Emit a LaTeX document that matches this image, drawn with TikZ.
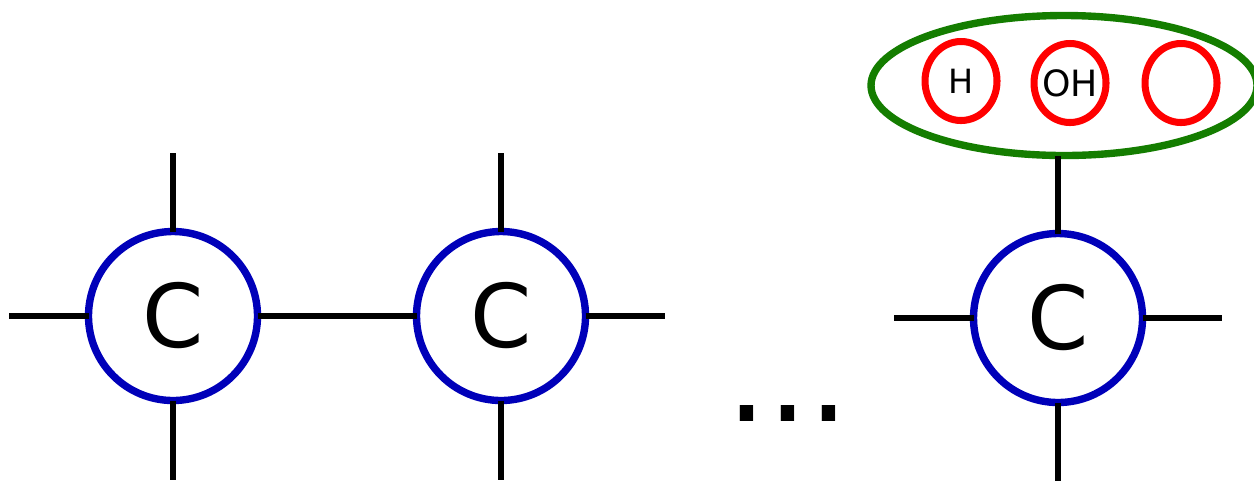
\documentclass[tikz,border=0pt]{standalone}
\usepackage{fontspec}
\setmainfont{DejaVu Sans}
\usetikzlibrary{shapes.geometric}
\definecolor{carbonblue}{RGB}{0,0,185}
\definecolor{groupgreen}{RGB}{20,125,0}
\definecolor{atomred}{RGB}{255,0,0}
\tikzset{
    carbon/.style={circle, draw=carbonblue, line width=2.1pt, minimum size=1.69cm, inner sep=0pt, outer sep=0pt, font=\fontsize{25}{25}\selectfont},
    atom/.style={ellipse, draw=atomred, line width=2pt, minimum width=0.72cm, minimum height=0.79cm, inner sep=0pt},
    bond/.style={line width=1.95pt, black}
}
\begin{document}
\begin{tikzpicture}
    \useasboundingbox (0,0) rectangle (12.54,4.81);
    \node[carbon] (c1) at (1.73,1.65) {C};
    \node[carbon] (c2) at (5.01,1.65) {C};
    \node[carbon] (c3) at (10.58,1.63) {C};
    \node[ellipse, draw=groupgreen, line width=2.1pt, minimum width=3.86cm, minimum height=1.4cm, inner sep=0pt, outer sep=0pt] (group) at (10.64,3.955) {};
    \node[atom, font=\fontsize{9.5}{9.5}\selectfont] (h) at (9.61,4.0) {H};
    \node[atom, font=\fontsize{10.3}{10.3}\selectfont] (oh) at (10.70,3.98) {\makebox[0pt]{OH}};
    \node[atom] (empty) at (11.81,3.98) {};
    \node[font=\fontsize{36.7}{36.7}\selectfont] (dots) at (7.88,0.68) {...};
    % free ends
    \coordinate (c1w) at (0.09,1.65);
    \coordinate (c1n) at (1.73,3.28);
    \coordinate (c1s) at (1.73,0.01);
    \coordinate (c2n) at (5.01,3.28);
    \coordinate (c2s) at (5.01,0.01);
    \coordinate (c2e) at (6.65,1.65);
    \coordinate (c3w) at (8.94,1.63);
    \coordinate (c3e) at (12.22,1.63);
    \coordinate (c3s) at (10.58,0);
    \draw[bond] (c1) -- (c1w);
    \draw[bond] (c1) -- (c1n);
    \draw[bond] (c1) -- (c1s);
    \draw[bond] (c1) -- (c2);
    \draw[bond] (c2) -- (c2n);
    \draw[bond] (c2) -- (c2s);
    \draw[bond] (c2) -- (c2e);
    \draw[bond] (c3) -- (c3w);
    \draw[bond] (c3) -- (c3e);
    \draw[bond] (c3) -- (c3s);
    \draw[bond] (c3) -- (c3 |- group.south);
\end{tikzpicture}
\end{document}
